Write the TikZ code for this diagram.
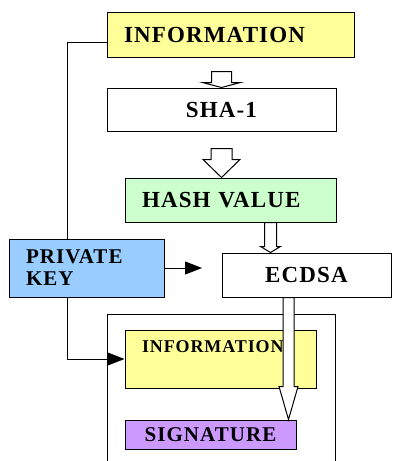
\documentclass[tikz,border=0pt]{standalone}
\usepackage{fontspec}
\setmainfont{Liberation Serif}[LetterSpace=5]
\usetikzlibrary{calc,arrows.meta}

\definecolor{amarilloinfo}{HTML}{FFFF99}
\definecolor{verdehash}{HTML}{CCFFCC}
\definecolor{azulclave}{HTML}{99CCFF}
\definecolor{moradofirma}{HTML}{CC99FF}

% flecha hueca: inicio, nodo destino, medio tallo, media punta, largo punta
\newcommand{\flechahueca}[5]{%
  \path (#1) coordinate (fh-a);
  \path (fh-a |- #2) coordinate (fh-b);
  \draw[hueca] ($(fh-a)+(-#3pt,0pt)$) -- ($(fh-b)+(-#3pt,#5pt)$) -- ($(fh-b)+(-#4pt,#5pt)$)
    -- (fh-b) -- ($(fh-b)+(#4pt,#5pt)$) -- ($(fh-b)+(#3pt,#5pt)$) -- ($(fh-a)+(#3pt,0pt)$) -- cycle;
}

\begin{document}
\begin{tikzpicture}[x=1pt, y=-1pt,
        every node/.style={draw, line width=1pt, inner sep=0pt, font=\bfseries\fontsize{23}{25}\selectfont},
        izquierda/.style={align=left, inner xsep=17pt, text width=#1},
        centro/.style={align=center},
        chico/.style={font=\bfseries\fontsize{21}{22}\selectfont},
        amarillo/.style={fill=amarilloinfo},
        verde/.style={fill=verdehash},
        azul/.style={fill=azulclave},
        morado/.style={fill=moradofirma},
        flecha/.style={-{Triangle[length=17pt, width=13pt]}, line width=1pt},
        hueca/.style={draw, fill=white, line width=1pt}
    ]
    \useasboundingbox (0,0) rectangle (392,461);

    \node[amarillo, izquierda=213pt, minimum height=45pt] (info) at (230.5,34.5) {INFORMATION};
    \node[centro, minimum width=229pt, minimum height=43pt] (sha) at (221.5,109.5) {SHA-1};
    \node[verde, izquierda=177pt, minimum height=44pt] (hash) at (230.5,200) {HASH VALUE};
    \node[centro, minimum width=169pt, minimum height=44pt] (ecdsa) at (306.5,275) {ECDSA};
    \node[minimum width=228pt, minimum height=156pt] (contenedor) at (221,392) {};
    \node[amarillo, minimum width=191pt, minimum height=58pt,
        label={[draw=none, anchor=north west, inner sep=0pt, xshift=17pt, yshift=-11pt,
            font=\bfseries\fontsize{18}{20}\selectfont]north west:INFORMATION}] (info2) at (220.5,359) {};
    \node[morado, centro, chico, minimum width=171pt, minimum height=29pt] (firma) at (210.5,434.5) {SIGNATURE};

    % la linea pasa por detras de la clave
    \draw [flecha] ($(info.south west)+(0pt,15pt)$) -- ++(-39,0) |- (info2.west);

    \node[azul, chico, izquierda=121pt, minimum height=58pt] (clave) at (86.5,268) {PRIVATE\\KEY};
    \coordinate (punta) at (202,268);
    \draw [flecha] (clave.east) -- (punta);

    \flechahueca{$(sha.north)+(0pt,16pt)$}{sha.north}{10}{19}{5}
    \flechahueca{$(sha.south)+(0pt,-17pt)$}{hash.north}{10.5}{18.5}{18}
    \flechahueca{$(hash.south)+(40pt,0pt)$}{ecdsa.north}{6}{10}{6}
    \flechahueca{$(ecdsa.south)+(-18pt,0pt)$}{firma.north}{5.5}{9.5}{33}
    \end{tikzpicture}
\end{document}
